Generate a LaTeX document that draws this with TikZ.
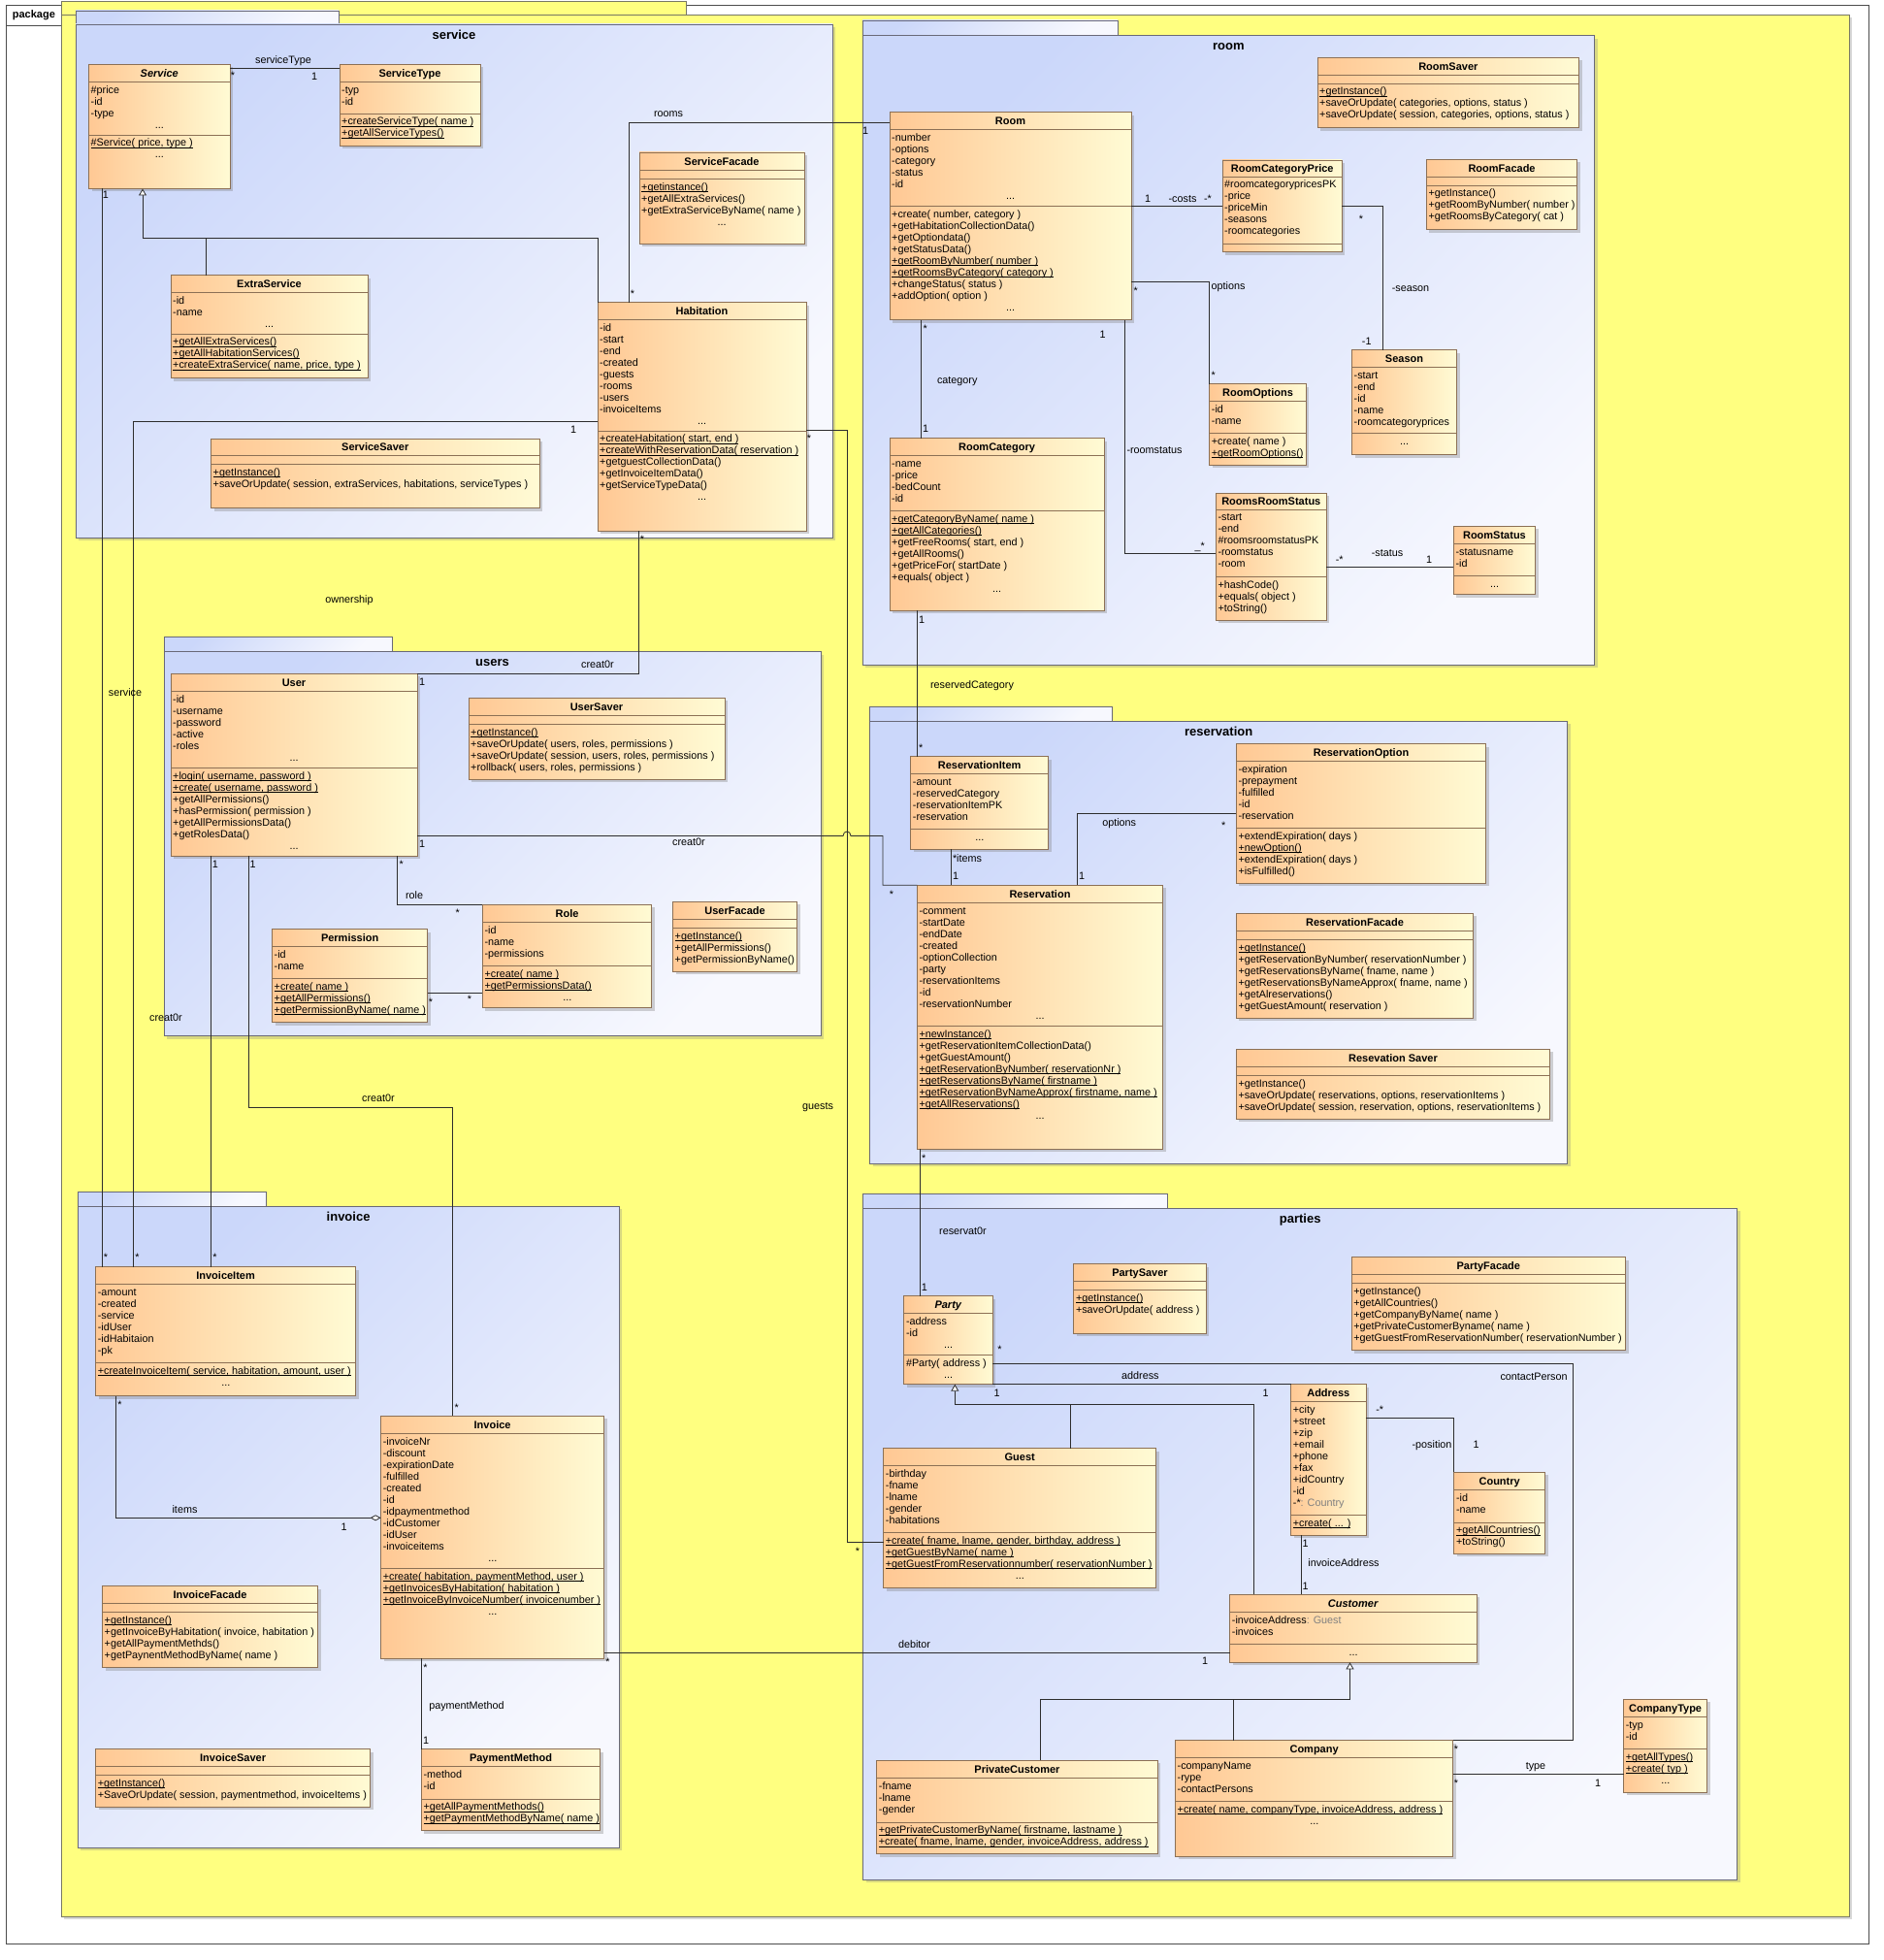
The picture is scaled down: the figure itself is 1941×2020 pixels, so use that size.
\documentclass[tikz,border=0pt]{standalone}
\usepackage{fontspec}
\setmainfont{Liberation Sans}
\usepackage{tikz}
\usetikzlibrary{positioning, arrows.meta, shadows}

\definecolor{framefill}{RGB}{255,255,128}
\definecolor{frameline}{RGB}{120,120,100}
\definecolor{pkgA}{RGB}{203,215,250}
\definecolor{pkgB}{RGB}{247,248,254}
\definecolor{pkgline}{RGB}{105,105,120}
\definecolor{clsA}{RGB}{255,200,148}
\definecolor{clsB}{RGB}{255,251,212}
\definecolor{clsline}{RGB}{140,112,85}
\definecolor{wire}{RGB}{45,45,45}

\newcommand{\umlreg}{\fontsize{10.8}{12}\selectfont}
\newcommand{\statop}[1]{\setbox0=\hbox{#1}\rlap{\rule[-1.6pt]{\wd0}{0.6pt}}\box0}
\newcommand{\typ}[1]{\textcolor{gray}{#1}}
\newcommand{\umldots}{\makebox[\umlcurw pt][c]{...}}

\tikzset{
  classbox/.style={draw=clsline, line width=0.8pt, left color=clsA, right color=clsB,
    anchor=north west, inner sep=0pt, outer sep=0pt,
    drop shadow={shadow xshift=3pt, shadow yshift=-3pt, opacity=0.35}},
  classrule/.style={draw=clsline, line width=0.8pt},
  classname/.style={font=\fontsize{11}{13}\selectfont\bfseries, inner sep=0pt, text height=8pt, text depth=0pt},
  classtext/.style={font=\umlreg, align=left, inner sep=0pt, anchor=north west},
  pkgtab/.style={draw=pkgline, line width=0.8pt, top color=pkgA, bottom color=pkgB, shading angle=45,
    anchor=north west, inner sep=0pt, outer sep=0pt},
  pkgbody/.style={pkgtab, drop shadow={shadow xshift=3pt, shadow yshift=-3pt, opacity=0.3}},
  pkgtitle/.style={font=\fontsize{13}{15}\selectfont\bfseries, inner sep=0pt, text height=9.5pt, text depth=0pt},
  assoc/.style={draw=wire, line width=0.8pt},
  gen/.style={assoc, -{Triangle[open, width=8pt, length=7pt, fill=white]}},
  aggr/.style={assoc, -{Diamond[open, width=6pt, length=11pt, fill=white]}},
  mult/.style={font=\umlreg, inner sep=0pt, text height=7.5pt, text depth=0pt}
}

% name, x, y, width, height, first rule, second rule, title
\newcommand{\umlclass}[8]{%
  \node[classbox, minimum width=#4pt, minimum height=#5pt] (#1) at (#2,#3) {};
  \draw[classrule] ([yshift=-#6pt]#1.north west) -- ([yshift=-#6pt]#1.north east);
  \draw[classrule] ([yshift=-#7pt]#1.north west) -- ([yshift=-#7pt]#1.north east);
  \pgfmathsetmacro{\umlmid}{-#6/2}%
  \node[classname] (#1-t) at ([yshift=\umlmid pt]#1.north) {#8};
  \expandafter\gdef\csname uw#1\endcsname{#4}%
  \expandafter\gdef\csname ua#1\endcsname{#6}%
  \expandafter\gdef\csname uo#1\endcsname{#7}%
}
\newcommand{\umlattrs}[2]{%
  \pgfmathsetmacro{\umlcurw}{\csname uw#1\endcsname-4}%
  \pgfmathsetmacro{\umlcury}{-\csname ua#1\endcsname-1.5}%
  \node[classtext] (#1-a) at ([xshift=2pt, yshift=\umlcury pt]#1.north west) {\rule{0pt}{10pt}#2};
}
\newcommand{\umlops}[2]{%
  \pgfmathsetmacro{\umlcurw}{\csname uw#1\endcsname-4}%
  \pgfmathsetmacro{\umlcury}{-\csname uo#1\endcsname-1.5}%
  \node[classtext] (#1-o) at ([xshift=2pt, yshift=\umlcury pt]#1.north west) {\rule{0pt}{10pt}#2};
}
% name, title, x, tab top, tab width, body top, width, height
\newcommand{\umlpackage}[8]{%
  \pgfmathsetmacro{\umltabh}{#6-#4}%
  \node[pkgtab, minimum width=#5pt, minimum height=\umltabh pt] (#1-tab) at (#3,#4) {};
  \node[pkgbody, minimum width=#7pt, minimum height=#8pt] (#1) at (#3,#6) {};
  \node[pkgtitle, below=5.5pt of #1.north] (#1-title) {#2};
}

\begin{document}
\begin{tikzpicture}[x=1pt, y=-1pt]

\path[use as bounding box, fill=white] (0,0) rectangle (1941,2020);

% outer frame
\draw[black!70, line width=0.8pt] (6,5) rectangle (1926,2003);
\node[draw=black!70, fill=white, line width=0.8pt, minimum width=57pt, minimum height=21pt, anchor=north west,
  inner sep=0pt, font=\fontsize{11}{13}\selectfont\bfseries] (pkglabel) at (6,5) {package};
\node[draw=frameline, fill=framefill, line width=0.8pt, minimum width=644pt, minimum height=14pt,
  anchor=north west, inner sep=0pt] (top-tab) at (63,1) {};
\node[draw=frameline, fill=framefill, line width=0.8pt, minimum width=1843pt, minimum height=1960pt,
  anchor=north west, inner sep=0pt, drop shadow={shadow xshift=3pt, shadow yshift=-3pt, opacity=0.3}] (top) at (63,15) {};

% packages
\umlpackage{pkgservice}{service}{78}{11}{271}{25}{780}{529}
\umlpackage{pkgroom}{room}{889}{21}{263}{36.6}{754.7}{648.4}
\umlpackage{pkgusers}{users}{169}{656}{235.6}{671.7}{677}{396}
\umlpackage{pkgreservation}{reservation}{896.7}{728.3}{250}{743.3}{719}{456}
\umlpackage{pkginvoice}{invoice}{80.3}{1228.3}{194}{1243.3}{557.6}{661}
\umlpackage{pkgparties}{parties}{889.6}{1230.7}{314}{1245}{901.1}{692.3}

% service
\umlclass{service}{91.5}{66.5}{145.5}{128}{18.2}{72.5}{\textit{Service}}
\umlattrs{service}{\#price\\-id\\-type\\\umldots}
\umlops{service}{\statop{\#Service( price, type )}\\\umldots}
\umlclass{servicetype}{350}{66.5}{145}{83.5}{18.2}{50.5}{ServiceType}
\umlattrs{servicetype}{-typ\\-id}
\umlops{servicetype}{\statop{+createServiceType( name )}\\\statop{+getAllServiceTypes()}}
\umlclass{servicefacade}{659}{157}{170}{94}{18.6}{27.7}{ServiceFacade}
\umlops{servicefacade}{\statop{+getinstance()}\\+getAllExtraServices()\\+getExtraServiceByName( name )\\\umldots}
\umlclass{extraservice}{176}{283.5}{203}{106.2}{18.2}{60.5}{ExtraService}
\umlattrs{extraservice}{-id\\-name\\\umldots}
\umlops{extraservice}{\statop{+getAllExtraServices()}\\\statop{+getAllHabitationServices()}\\\statop{+createExtraService( name, price, type )}}
\umlclass{habitation}{616}{311.5}{215}{235.5}{18.2}{132.5}{Habitation}
\umlattrs{habitation}{-id\\-start\\-end\\-created\\-guests\\-rooms\\-users\\-invoiceItems\\\umldots}
\umlops{habitation}{\statop{+createHabitation( start, end )}\\\statop{+createWithReservationData( reservation )}\\+getguestCollectionData()\\+getInvoiceItemData()\\+getServiceTypeData()\\\umldots}
\umlclass{servicesaver}{217.5}{452}{338.5}{71.5}{17.6}{26.4}{ServiceSaver}
\umlops{servicesaver}{\statop{+getInstance()}\\+saveOrUpdate( session, extraServices, habitations, serviceTypes )}

% room
\umlclass{room}{917}{115.7}{249}{213.8}{17.7}{96.8}{Room}
\umlattrs{room}{-number\\-options\\-category\\-status\\-id\\\umldots}
\umlops{room}{+create( number, category )\\+getHabitationCollectionData()\\+getOptiondata()\\+getStatusData()\\\statop{+getRoomByNumber( number )}\\\statop{+getRoomsByCategory( category )}\\+changeStatus( status )\\+addOption( option )\\\umldots}
\umlclass{roomcategoryprice}{1260}{165}{123.4}{94.7}{17}{86}{RoomCategoryPrice}
\umlattrs{roomcategoryprice}{\#roomcategorypricesPK\\-price\\-priceMin\\-seasons\\-roomcategories}
\umlclass{roomoptions}{1246.7}{395.6}{99.6}{83.4}{18.1}{50.9}{RoomOptions}
\umlattrs{roomoptions}{-id\\-name}
\umlops{roomoptions}{+create( name )\\\statop{+getRoomOptions()}}
\umlclass{roomcategory}{917}{451.6}{221}{177.4}{18.1}{74.9}{RoomCategory}
\umlattrs{roomcategory}{-name\\-price\\-bedCount\\-id}
\umlops{roomcategory}{\statop{+getCategoryByName( name )}\\\statop{+getAllCategories()}\\+getFreeRooms( start, end )\\+getAllRooms()\\+getPriceFor( startDate )\\+equals( object )\\\umldots}
\umlclass{roomsroomstatus}{1253.3}{508}{114}{131}{17}{86.7}{RoomsRoomStatus}
\umlattrs{roomsroomstatus}{-start\\-end\\\#roomsroomstatusPK\\-roomstatus\\-room}
\umlops{roomsroomstatus}{+hashCode()\\+equals( object )\\+toString()}
\umlclass{roomstatus}{1498.4}{542.4}{84.1}{70.1}{18.3}{51.4}{RoomStatus}
\umlattrs{roomstatus}{-statusname\\-id}
\umlops{roomstatus}{\umldots}
\umlclass{roomsaver}{1358}{59.4}{269.7}{72.3}{18.3}{26.6}{RoomSaver}
\umlops{roomsaver}{\statop{+getInstance()}\\+saveOrUpdate( categories, options, status )\\+saveOrUpdate( session, categories, options, status )}
\umlclass{roomfacade}{1470.3}{164.3}{155.5}{72.3}{17.7}{26.7}{RoomFacade}
\umlops{roomfacade}{+getInstance()\\+getRoomByNumber( number )\\+getRoomsByCategory( cat )}
\umlclass{season}{1393.5}{360.7}{108}{108}{17.9}{85.7}{Season}
\umlattrs{season}{-start\\-end\\-id\\-name\\-roomcategoryprices}
\umlops{season}{\umldots}

% users
\umlclass{user}{176}{694}{254}{188}{18.3}{97.3}{User}
\umlattrs{user}{-id\\-username\\-password\\-active\\-roles\\\umldots}
\umlops{user}{\statop{+login( username, password )}\\\statop{+create( username, password )}\\+getAllPermissions()\\+hasPermission( permission )\\+getAllPermissionsData()\\+getRolesData()\\\umldots}
\umlclass{usersaver}{483}{719}{264}{84}{18.7}{27.7}{UserSaver}
\umlops{usersaver}{\statop{+getInstance()}\\+saveOrUpdate( users, roles, permissions )\\+saveOrUpdate( session, users, roles, permissions )\\+rollback( users, roles, permissions )}
\umlclass{role}{497.4}{932}{174.4}{106.7}{18.7}{63.7}{Role}
\umlattrs{role}{-id\\-name\\-permissions}
\umlops{role}{\statop{+create( name )}\\\statop{+getPermissionsData()}\\\umldots}
\umlclass{permission}{280.5}{957.7}{160.3}{96}{18}{51}{Permission}
\umlattrs{permission}{-id\\-name}
\umlops{permission}{\statop{+create( name )}\\\statop{+getAllPermissions()}\\\statop{+getPermissionByName( name )}}
\umlclass{userfacade}{693.5}{929}{128.2}{72}{18}{27.7}{UserFacade}
\umlops{userfacade}{\statop{+getInstance()}\\+getAllPermissions()\\+getPermissionByName()}

% reservation
\umlclass{reservationitem}{938.7}{779.7}{142}{95.6}{18}{75}{ReservationItem}
\umlattrs{reservationitem}{-amount\\-reservedCategory\\-reservationItemPK\\-reservation}
\umlops{reservationitem}{\umldots}
\umlclass{reservation}{945.3}{912.3}{253.4}{272}{18}{145.4}{Reservation}
\umlattrs{reservation}{-comment\\-startDate\\-endDate\\-created\\-optionCollection\\-party\\-reservationItems\\-id\\-reservationNumber\\\umldots}
\umlops{reservation}{\statop{+newInstance()}\\+getReservationItemCollectionData()\\+getGuestAmount()\\\statop{+getReservationByNumber( reservationNr )}\\\statop{+getReservationsByName( firstname )}\\\statop{+getReservationByNameApprox( firstname, name )}\\\statop{+getAllReservations()}\\\umldots}
\umlclass{reservationoption}{1274.3}{766.7}{257.4}{143.6}{17.6}{87}{ReservationOption}
\umlattrs{reservationoption}{-expiration\\-prepayment\\-fulfilled\\-id\\-reservation}
\umlops{reservationoption}{+extendExpiration( days )\\\statop{+newOption()}\\+extendExpiration( days )\\+isFulfilled()}
\umlclass{reservationfacade}{1274.3}{941.3}{244.4}{108}{18}{27.4}{ReservationFacade}
\umlops{reservationfacade}{\statop{+getInstance()}\\+getReservationByNumber( reservationNumber )\\+getReservationsByName( fname, name )\\+getReservationsByNameApprox( fname, name )\\+getAlreservations()\\+getGuestAmount( reservation )}
\umlclass{reservationsaver}{1274.3}{1081.3}{323.4}{72}{18}{27.4}{Resevation Saver}
\umlops{reservationsaver}{+getInstance()\\+saveOrUpdate( reservations, options, reservationItems )\\+saveOrUpdate( session, reservation, options, reservationItems )}

% parties
\umlclass{party}{931.8}{1335.7}{91.4}{91}{17.6}{60.6}{\textit{Party}}
\umlattrs{party}{-address\\-id\\\umldots}
\umlops{party}{\#Party( address )\\\umldots}
\umlclass{partysaver}{1106.8}{1302.7}{136.4}{71.6}{17.6}{26.6}{PartySaver}
\umlops{partysaver}{\statop{+getInstance()}\\+saveOrUpdate( address )}
\umlclass{partyfacade}{1393.2}{1295.7}{282.3}{96}{18}{26.6}{PartyFacade}
\umlops{partyfacade}{+getInstance()\\+getAllCountries()\\+getCompanyByName( name )\\+getPrivateCustomerByname( name )\\+getGuestFromReservationNumber( reservationNumber )}
\umlclass{address}{1330.7}{1426.7}{77.2}{155.6}{17.6}{135}{Address}
\umlattrs{address}{+city\\+street\\+zip\\+email\\+phone\\+fax\\+idCountry\\-id\\-*\typ{ : Country}}
\umlops{address}{\statop{+create( ... )}}
\umlclass{country}{1498.8}{1517.3}{93.7}{84}{18}{51.7}{Country}
\umlattrs{country}{-id\\-name}
\umlops{country}{\statop{+getAllCountries()}\\+toString()}
\umlclass{guest}{910.7}{1492.7}{281.1}{144}{17.6}{87}{Guest}
\umlattrs{guest}{-birthday\\-fname\\-lname\\-gender\\-habitations}
\umlops{guest}{\statop{+create( fname, lname, gender, birthday, address )}\\\statop{+getGuestByName( name )}\\\statop{+getGuestFromReservationnumber( reservationNumber )}\\\umldots}
\umlclass{customer}{1267.7}{1643.3}{254.3}{70}{18.4}{51}{\textit{Customer}}
\umlattrs{customer}{-invoiceAddress\typ{ : Guest}\\-invoices}
\umlops{customer}{\umldots}
\umlclass{privatecustomer}{903.7}{1814.3}{289.6}{96.4}{18}{63.7}{PrivateCustomer}
\umlattrs{privatecustomer}{-fname\\-lname\\-gender}
\umlops{privatecustomer}{\statop{+getPrivateCustomerByName( firstname, lastname )}\\\statop{+create( fname, lname, gender, invoiceAddress, address )}}
\umlclass{company}{1211.5}{1793.7}{286.2}{119.6}{17.6}{63}{Company}
\umlattrs{company}{-companyName\\-rype\\-contactPersons}
\umlops{company}{\statop{+create( name, companyType, invoiceAddress, address )}\\\umldots}
\umlclass{companytype}{1673.6}{1751.3}{86}{96}{18}{51}{CompanyType}
\umlattrs{companytype}{-typ\\-id}
\umlops{companytype}{\statop{+getAllTypes()}\\\statop{+create( typ )}\\\umldots}

% invoice
\umlclass{invoiceitem}{98.7}{1305.7}{267.8}{133}{18}{98.6}{InvoiceItem}
\umlattrs{invoiceitem}{-amount\\-created\\-service\\-idUser\\-idHabitaion\\-pk}
\umlops{invoiceitem}{\statop{+createInvoiceItem( service, habitation, amount, user )}\\\umldots}
\umlclass{invoice}{392.6}{1459.3}{230}{250}{18}{157.4}{Invoice}
\umlattrs{invoice}{-invoiceNr\\-discount\\-expirationDate\\-fulfilled\\-created\\-id\\-idpaymentmethod\\-idCustomer\\-idUser\\-invoiceitems\\\umldots}
\umlops{invoice}{\statop{+create( habitation, paymentMethod, user )}\\\statop{+getInvoicesByHabitation( habitation )}\\\statop{+getInvoiceByInvoiceNumber( invoicenumber )}\\\umldots}
\umlclass{invoicefacade}{105.5}{1634.7}{222}{84}{18}{27}{InvoiceFacade}
\umlops{invoicefacade}{\statop{+getInstance()}\\+getInvoiceByHabitation( invoice, habitation )\\+getAllPaymentMethds()\\+getPaynentMethodByName( name )}
\umlclass{invoicesaver}{98.7}{1802.7}{282.8}{59.6}{17.6}{27}{InvoiceSaver}
\umlops{invoicesaver}{\statop{+getInstance()}\\+SaveOrUpdate( session, paymentmethod, invoiceItems )}
\umlclass{paymentmethod}{434.3}{1802.7}{184.4}{84}{18}{51.3}{PaymentMethod}
\umlattrs{paymentmethod}{-method\\-id}
\umlops{paymentmethod}{\statop{+getAllPaymentMethods()}\\\statop{+getPaymentMethodByName( name )}}

% connectors: service
\draw[assoc] ([yshift=-3.5pt]service.north east) -- ([yshift=-3.5pt]servicetype.north west);
\draw[assoc] ([xshift=32pt]habitation.north west) |- ([yshift=-10.3pt]room.north west);
\draw[gen] (habitation.north west) -- ++(0,-66.5) -| ([xshift=55.5pt]service.south west);
\draw[assoc] ([xshift=36pt]extraservice.north west) -- ++(0,-38.5);
\draw[assoc] ([xshift=14pt]service.south west) -- ([xshift=6.8pt]invoiceitem.north west);
\draw[assoc] ([yshift=-122.5pt]habitation.north west) -| ([xshift=38.8pt]invoiceitem.north west);
\draw[assoc] ([xshift=42.5pt]habitation.south west) |- (user.north east);
\draw[assoc] ([yshift=-132pt]habitation.north east) -- ++(42,0) |- ([yshift=-96.3pt]guest.north west);

% connectors: users
\draw[assoc] ([xshift=41.5pt]user.south west) -- ([xshift=118.8pt]invoiceitem.north west);
\draw[assoc] ([xshift=80.5pt]user.south west) -- ++(0,259) -| ([xshift=73.4pt]invoice.north west);
\draw[assoc] ([yshift=-167.5pt]user.north east) -- ++(439,0) .. controls +(0,-6) and +(0,-6) .. ++(8,0)
  -- ++(33,0) |- (reservation.north west);
\draw[assoc] ([xshift=233.5pt]user.south west) |- (role.north west);
\draw[assoc] ([yshift=-65.3pt]permission.north east) -- ([yshift=-91pt]role.north west);

% connectors: room
\draw[assoc] ([yshift=-96.8pt]room.north east) -- ([yshift=-47.5pt]roomcategoryprice.north west);
\draw[assoc] ([yshift=-174.3pt]room.north east) -| (roomoptions.north west);
\draw[assoc] ([xshift=32.3pt]room.south west) -- ([xshift=32.3pt]roomcategory.north west);
\draw[assoc] ([xshift=242.3pt]room.south west) |- ([yshift=-62.3pt]roomsroomstatus.north west);
\draw[assoc] ([yshift=-76.4pt]roomsroomstatus.north east) -- ([yshift=-42pt]roomstatus.north west);
\draw[assoc] ([yshift=-47.5pt]roomcategoryprice.north east) -| ([xshift=32pt]season.north west);
\draw[assoc] ([xshift=28.5pt]roomcategory.south west) -- ([xshift=6.8pt]reservationitem.north west);

% connectors: reservation
\draw[assoc] ([xshift=41.6pt]reservationitem.south west) -- ([xshift=35pt]reservation.north west);
\draw[assoc] ([xshift=165pt]reservation.north west) |- ([yshift=-71.6pt]reservationoption.north west);
\draw[assoc] ([xshift=3.2pt]reservation.south west) -- ([xshift=16.7pt]party.north west);

% connectors: parties
\draw[assoc] (party.south east) -- (address.north west);
\draw[assoc] ([yshift=-69.6pt]party.north east) -- ++(598.3,0) |- (company.north east);
\draw[assoc] ([yshift=-34.6pt]address.north east) -| (country.north west);
\draw[gen] ([xshift=192.9pt]guest.north west) -- ++(0,-45) -| ([xshift=52.5pt]party.south west);
\draw[assoc] ([xshift=24.8pt]customer.north west) |- ([xshift=192.9pt, yshift=45pt]guest.north west);
\draw[assoc] ([xshift=10.7pt]address.south west) -- ([xshift=73.7pt]customer.north west);
\draw[assoc] ([yshift=-244pt]invoice.north east) -- ([yshift=-60pt]customer.north west);
\draw[gen] ([xshift=169.1pt]privatecustomer.north west) -- ++(0,-63.3) -| ([xshift=123.8pt]customer.south west);
\draw[assoc] ([xshift=59.5pt]company.north west) -- ++(0,-42.7);
\draw[assoc] ([yshift=-34.6pt]company.north east) -- ([yshift=-77pt]companytype.north west);

% connectors: invoice
\draw[aggr] ([xshift=20.6pt]invoiceitem.south west) |- ([yshift=-105pt]invoice.north west);
\draw[assoc] ([xshift=41.7pt]invoice.south west) -- (paymentmethod.north west);

% role names and multiplicities
\foreach \px/\py/\txt [count=\i] in {240/78/*, 324/79/1, 292/62/serviceType, 689/117/rooms, 652/303/*,
    892/135/1, 109/201/1, 591/443/1, 662/556/*, 834/452/*, 360/618/ownership, 129/714/service,
    616/685/creat0r, 435/703/1, 171/1049/creat0r, 390/1132/creat0r, 843/1140/guests}
  \node[mult] (sv\i) at (\px,\py) {\txt};
\foreach \px/\py/\txt [count=\i] in {435/870/1, 710/868/creat0r, 222/891/1, 260.5/891/1, 413.6/891/*,
    427/923/role, 471.6/941/*, 444/1032.7/*, 484/1030/*}
  \node[mult] (us\i) at (\px,\py) {\txt};
\foreach \px/\py/\txt [count=\i] in {1183/205/1, 1219/205/-costs, 1245/205/-*, 1170.7/299.6/*,
    1266/294.6/options, 1250.7/387/*, 953.7/338.7/*, 986.7/392/category, 954/442/1, 1136.7/345/1,
    1190/464/-roomstatus, 1236.7/563/\_*, 1380.7/576.5/-*, 1430/569.6/-status, 1473/576.8/1,
    1403/226/*, 1454/296.4/-season, 1408.7/351.3/-1, 950/638.5/1, 1002/706/reservedCategory}
  \node[mult] (rm\i) at (\px,\py) {\txt};
\foreach \px/\py/\txt [count=\i] in {949.3/770.3/*, 997/884.3/*items, 985/903/1, 1115/903/1,
    1153.7/847.3/options, 1261.3/850.3/*, 919/922/*, 952.3/1193.7/*}
  \node[mult] (rs\i) at (\px,\py) {\txt};
\foreach \px/\py/\txt [count=\i] in {992.5/1268.3/reservat0r, 952.9/1326.3/1, 1030.4/1390.3/*,
    1581/1418.3/contactPerson, 1501/1802.7/*, 1175.4/1417.3/address, 1027.5/1435.3/1, 1304.6/1435.3/1,
    1422.2/1453/-*, 1476/1488.3/-position, 1521.7/1488.3/1, 1345.7/1591/1, 1385/1610.3/invoiceAddress,
    1345.7/1634.3/1, 884/1599/*, 942.5/1694.3/debitor, 1242/1711.7/1, 626.4/1712.3/*,
    1501/1837.7/*, 1583/1819.7/type, 1647/1837.3/1}
  \node[mult] (pt\i) at (\px,\py) {\txt};
\foreach \px/\py/\txt [count=\i] in {109/1296/*, 141.5/1296/*, 221.5/1296/*, 470.6/1451/*,
    123.5/1448/*, 190.5/1555.3/items, 354.7/1573.3/1, 438.5/1718.7/*, 481/1757.3/paymentMethod, 439/1793.3/1}
  \node[mult] (iv\i) at (\px,\py) {\txt};

\end{tikzpicture}
\end{document}
